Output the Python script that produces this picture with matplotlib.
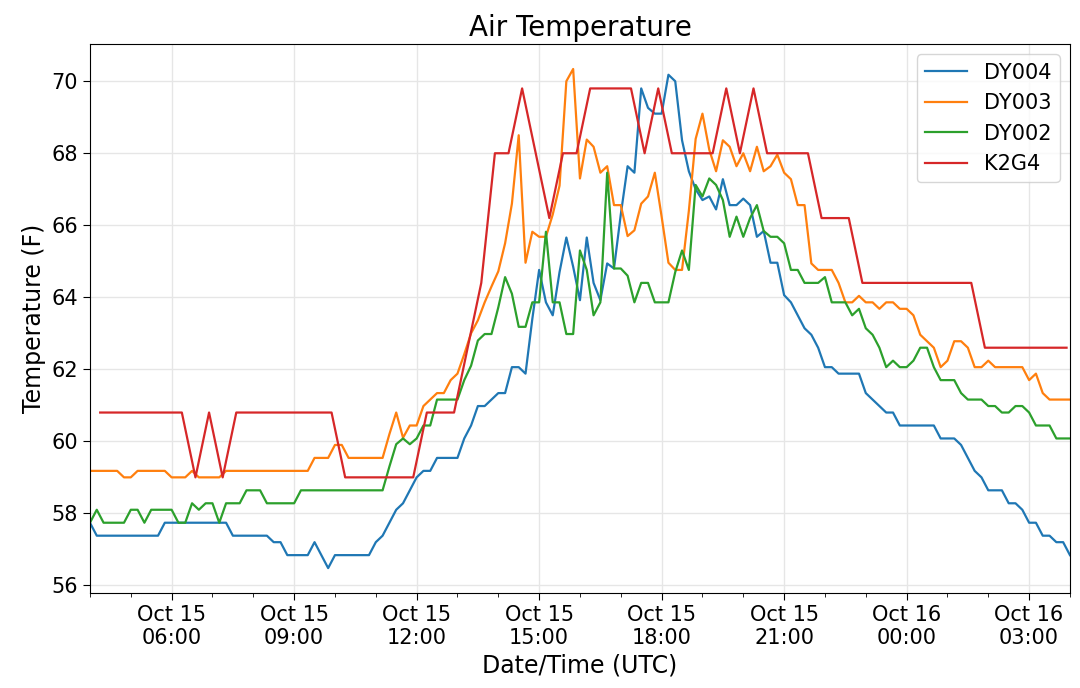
import matplotlib
matplotlib.use('Agg')
import matplotlib.pyplot as plt
import matplotlib.dates as mdates
import pandas as pd

# 10-minute station readings, 04:00 Oct 15 -> 04:00 Oct 16 (UTC)
dy_times = pd.date_range('2018-10-15 04:00', periods=145, freq='10min')
# K2G4 METAR-ish reports every 20 minutes at :15/:35/:55
k2g4_times = pd.date_range('2018-10-15 04:15', periods=72, freq='20min')

dy004 = [
    57.74, 57.38, 57.38, 57.38, 57.38, 57.38, 57.38, 57.38, 57.38, 57.38, 57.38, 57.74,
    57.74, 57.74, 57.74, 57.74, 57.74, 57.74, 57.74, 57.74, 57.74, 57.38, 57.38, 57.38,
    57.38, 57.38, 57.38, 57.2, 57.2, 56.84, 56.84, 56.84, 56.84, 57.2, 56.84, 56.48,
    56.84, 56.84, 56.84, 56.84, 56.84, 56.84, 57.2, 57.38, 57.74, 58.1, 58.28, 58.64,
    59.0, 59.18, 59.18, 59.54, 59.54, 59.54, 59.54, 60.08, 60.44, 60.98, 60.98, 61.16,
    61.34, 61.34, 62.06, 62.06, 61.88, 63.4, 64.76, 63.86, 63.5, 64.7, 65.66, 64.85,
    63.92, 65.66, 64.4, 63.92, 64.94, 64.8, 66.3, 67.64, 67.46, 69.8, 69.26, 69.1,
    69.1, 70.18, 70.0, 68.36, 67.5, 67.0, 66.7, 66.8, 66.44, 67.28, 66.56, 66.56,
    66.74, 66.56, 65.68, 65.84, 64.96, 64.96, 64.06, 63.86, 63.5, 63.14, 62.96, 62.6,
    62.06, 62.06, 61.88, 61.88, 61.88, 61.88, 61.34, 61.16, 60.98, 60.8, 60.8, 60.44,
    60.44, 60.44, 60.44, 60.44, 60.44, 60.08, 60.08, 60.08, 59.9, 59.54, 59.18, 59.0,
    58.64, 58.64, 58.64, 58.28, 58.28, 58.1, 57.74, 57.74, 57.38, 57.38, 57.2, 57.2,
    56.84,
]

dy003 = [
    59.18, 59.18, 59.18, 59.18, 59.18, 59.0, 59.0, 59.18, 59.18, 59.18, 59.18, 59.18,
    59.0, 59.0, 59.0, 59.18, 59.0, 59.0, 59.0, 59.0, 59.18, 59.18, 59.18, 59.18,
    59.18, 59.18, 59.18, 59.18, 59.18, 59.18, 59.18, 59.18, 59.18, 59.54, 59.54, 59.54,
    59.9, 59.9, 59.54, 59.54, 59.54, 59.54, 59.54, 59.54, 60.2, 60.8, 60.1, 60.44,
    60.44, 60.98, 61.16, 61.34, 61.34, 61.7, 61.88, 62.42, 63.0, 63.36, 63.86, 64.3,
    64.72, 65.5, 66.6, 68.5, 64.96, 65.82, 65.68, 65.68, 66.3, 67.1, 70.0, 70.34,
    67.3, 68.38, 68.18, 67.46, 67.64, 66.56, 66.56, 65.7, 65.86, 66.6, 66.8, 67.46,
    66.24, 64.96, 64.76, 64.76, 66.4, 68.4, 69.1, 68.1, 67.5, 68.36, 68.18, 67.64,
    68.0, 67.5, 68.18, 67.5, 67.64, 67.96, 67.46, 67.28, 66.56, 66.56, 64.94, 64.76,
    64.76, 64.76, 64.4, 63.86, 63.86, 64.04, 63.86, 63.86, 63.68, 63.86, 63.86, 63.68,
    63.68, 63.5, 62.96, 62.78, 62.6, 62.06, 62.24, 62.78, 62.78, 62.6, 62.06, 62.06,
    62.24, 62.06, 62.06, 62.06, 62.06, 62.06, 61.7, 61.88, 61.34, 61.16, 61.16, 61.16,
    61.16,
]

dy002 = [
    57.74, 58.1, 57.74, 57.74, 57.74, 57.74, 58.1, 58.1, 57.74, 58.1, 58.1, 58.1,
    58.1, 57.74, 57.74, 58.28, 58.1, 58.28, 58.28, 57.74, 58.28, 58.28, 58.28, 58.64,
    58.64, 58.64, 58.28, 58.28, 58.28, 58.28, 58.28, 58.64, 58.64, 58.64, 58.64, 58.64,
    58.64, 58.64, 58.64, 58.64, 58.64, 58.64, 58.64, 58.64, 59.3, 59.92, 60.08, 59.92,
    60.08, 60.44, 60.44, 61.16, 61.16, 61.16, 61.16, 61.7, 62.1, 62.8, 62.98, 62.98,
    63.72, 64.56, 64.1, 63.18, 63.18, 63.86, 63.86, 65.82, 63.86, 63.86, 62.98, 62.98,
    65.3, 64.76, 63.5, 63.86, 67.46, 64.8, 64.8, 64.6, 63.86, 64.4, 64.4, 63.86,
    63.86, 63.86, 64.7, 65.3, 64.76, 67.12, 66.8, 67.3, 67.12, 66.7, 65.68, 66.24,
    65.68, 66.2, 66.56, 65.84, 65.68, 65.68, 65.5, 64.76, 64.76, 64.4, 64.4, 64.4,
    64.56, 63.86, 63.86, 63.86, 63.5, 63.68, 63.14, 62.96, 62.6, 62.06, 62.24, 62.06,
    62.06, 62.24, 62.6, 62.6, 62.06, 61.7, 61.7, 61.7, 61.34, 61.16, 61.16, 61.16,
    60.98, 60.98, 60.8, 60.8, 60.98, 60.98, 60.8, 60.44, 60.44, 60.44, 60.08, 60.08,
    60.08,
]

k2g4 = [
    60.8, 60.8, 60.8, 60.8, 60.8, 60.8, 60.8, 59.0, 60.8, 59.0, 60.8, 60.8,
    60.8, 60.8, 60.8, 60.8, 60.8, 60.8, 59.0, 59.0, 59.0, 59.0, 59.0, 59.0,
    60.8, 60.8, 60.8, 62.6, 64.4, 68.0, 68.0, 69.8, 68.0, 66.2, 68.0, 68.0,
    69.8, 69.8, 69.8, 69.8, 68.0, 69.8, 68.0, 68.0, 68.0, 68.0, 69.8, 68.0,
    69.8, 68.0, 68.0, 68.0, 68.0, 66.2, 66.2, 66.2, 64.4, 64.4, 64.4, 64.4,
    64.4, 64.4, 64.4, 64.4, 64.4, 62.6, 62.6, 62.6, 62.6, 62.6, 62.6, 62.6,
]

series = [('DY004', dy_times, dy004),
          ('DY003', dy_times, dy003),
          ('DY002', dy_times, dy002),
          ('K2G4', k2g4_times, k2g4)]

fig = plt.figure(figsize=(10.8, 6.88), dpi=100)
ax = fig.add_axes([0.0833, 0.138, 0.9074, 0.798])

for name, t, vals in series:
    ax.plot(t, vals, label=name, linewidth=1.6)

ax.margins(x=0, y=0.05)
ax.set_xlim(dy_times[0], dy_times[-1])

ax.xaxis.set_major_locator(mdates.HourLocator(byhour=range(0, 24, 3)))
ax.xaxis.set_minor_locator(mdates.HourLocator(interval=1))
ax.xaxis.set_major_formatter(mdates.DateFormatter('%b %d\n%H:%M'))

ax.grid(True, which='major', color='#e6e6e6', linewidth=1)
ax.set_axisbelow(True)

ax.tick_params(axis='both', which='major', labelsize=15, length=5)
ax.tick_params(axis='x', which='minor', length=3)

ax.set_title('Air Temperature', fontsize=20)
ax.set_xlabel('Date/Time (UTC)', fontsize=17)
ax.set_ylabel('Temperature (F)', fontsize=17)

ax.legend(loc='upper right', fontsize=15)

fig.savefig('out.png', dpi=100)
